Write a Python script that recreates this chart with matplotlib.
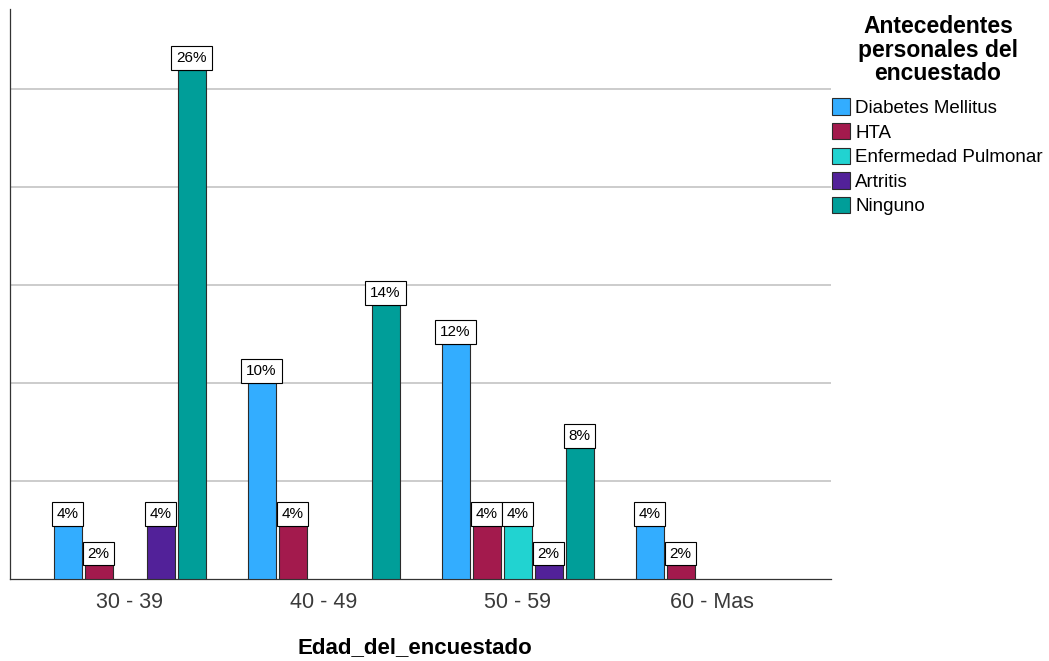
import numpy as np
import matplotlib
matplotlib.use("Agg")
import matplotlib.pyplot as plt
from matplotlib.patches import Patch

plt.rcParams['font.family'] = ['Liberation Sans', 'DejaVu Sans']

# ---- data ----
groups = ["30 - 39", "40 - 49", "50 - 59", "60 - Mas"]
series_names = ["Diabetes Mellitus", "HTA", "Enfermedad Pulmonar", "Artritis", "Ninguno"]
legend_title_lines = ["Antecedentes", "personales del", "encuestado"]
colors = ["#33adff", "#a31a4d", "#21d3d1", "#522199", "#009e99"]

# bar heights (percent axis, 5% per gridline)
diabetes = [2.67, 10.0, 12.0, 2.67]
hta = [0.67, 2.67, 2.67, 0.67]
pulmonar = [0.0, 0.0, 2.67, 0.0]
artritis = [2.67, 0.0, 0.67, 0.0]
ninguno = [26.0, 14.0, 6.67, 0.0]

# percentage labels printed above the bars
diabetes_lbl = ["4%", "10%", "12%", "4%"]
hta_lbl = ["2%", "4%", "4%", "2%"]
pulmonar_lbl = ["", "", "4%", ""]
artritis_lbl = ["4%", "", "2%", ""]
ninguno_lbl = ["26%", "14%", "8%", ""]

heights = [diabetes, hta, pulmonar, artritis, ninguno]
labels = [diabetes_lbl, hta_lbl, pulmonar_lbl, artritis_lbl, ninguno_lbl]

# ---- figure ----
W, H = 1049, 661
fig = plt.figure(figsize=(W / 100, H / 100), dpi=100)
ax = fig.add_axes([10 / W, 1 - 578.5 / H, 820.7 / W, 570 / H])

x = np.arange(len(groups))
slot = 31 / 194
width = 28 / 194
edge = "#2b2b2b"
lbl_pad = 0.32
lbl_fs = 11

for i, (vals, lbls, col) in enumerate(zip(heights, labels, colors)):
    xs = x + (i - 2) * slot
    for xi, v, lb in zip(xs, vals, lbls):
        if v <= 0:
            continue
        ax.bar(xi, v, width=width, color=col, edgecolor=edge, linewidth=0.8, zorder=3)
        ax.annotate(lb, xy=(xi, v), xytext=(0, lbl_pad * lbl_fs), textcoords="offset points",
                    ha="center", va="bottom", fontsize=lbl_fs, color="black", zorder=5,
                    bbox=dict(boxstyle=f"square,pad={lbl_pad}", facecolor="white",
                              edgecolor="black", linewidth=0.8))

ax.set_xlim(-0.616, 3.614)
ax.set_ylim(0, 29.13)
ax.set_yticks([5, 10, 15, 20, 25])
ax.tick_params(axis="y", length=0, labelleft=False)
ax.yaxis.grid(True, color="#c4c4c4", linewidth=1.2)
ax.set_axisbelow(True)

ax.set_xticks(x)
ax.set_xticklabels(groups, fontsize=15.5, color="#3a3a3a")
ax.tick_params(axis="x", length=0, pad=9.5)

for s in ["top", "right"]:
    ax.spines[s].set_visible(False)
for s in ["left", "bottom"]:
    ax.spines[s].set_color("#333333")
    ax.spines[s].set_linewidth(0.9)

ax.set_xlabel("Edad_del_encuestado", fontsize=16, fontweight="bold", color="black")
ax.xaxis.set_label_coords(0.493, -0.1035)

# legend title (three centred bold lines)
for line, yb in zip(legend_title_lines, [33.3, 56.5, 80.0]):
    fig.text(938 / W, 1 - yb / H, line, ha="center", va="baseline",
             fontsize=16.5, fontweight="bold", color="black")

handles = [Patch(facecolor=c, edgecolor=edge, linewidth=0.8) for c in colors]
leg = fig.legend(handles, series_names, loc="upper left",
                 bbox_to_anchor=(832 / W, 1 - 98.5 / H), bbox_transform=fig.transFigure,
                 frameon=False, fontsize=13.5,
                 handlelength=0.96, handleheight=0.96, handletextpad=0.27,
                 labelspacing=0.32, borderpad=0, borderaxespad=0)

fig.savefig("out.png", dpi=100)
